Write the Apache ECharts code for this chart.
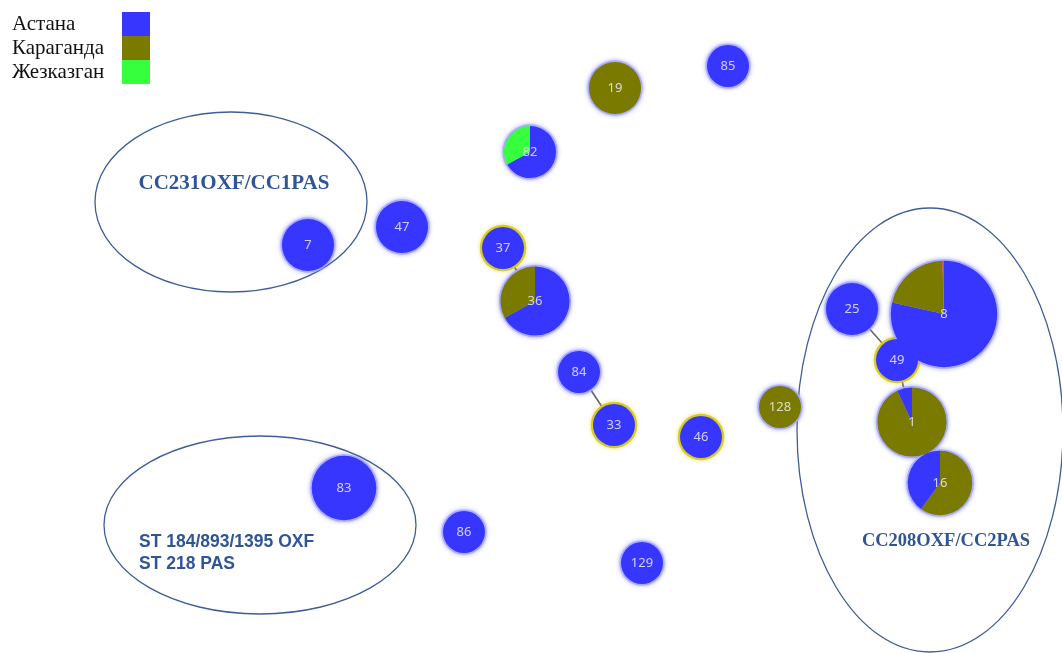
<!DOCTYPE html>
<html>
<head>
<meta charset="utf-8">
<script src="https://cdn.jsdelivr.net/npm/echarts@6/dist/echarts.min.js"></script>
<style>
  html, body { margin: 0; padding: 0; background: #ffffff; }
  #main { width: 1062px; height: 653px; }
</style>
</head>
<body>
<div id="main"></div>
<script>
// Regions of isolation and their pie colours
const regions = ['Астана', 'Караганда', 'Жезказган'];
const regionColors = ['#3636ff', '#7a7a00', '#36ff3e'];
const otherColor = '#ff4040';

// Sequence types (nodes) and their layout coordinates
const nodeIds = ['85', '19', '82', '7', '47', '37', '36', '84', '33', '46', '128', '25', '49', '8', '1', '16', '83', '86', '129'];
const nodeX   = [728, 615, 530, 308, 402, 503, 535, 579, 614, 701, 780, 852, 897, 944, 912, 940, 344, 464, 642];
const nodeY   = [66, 88, 152, 245, 227, 248, 301, 372, 425, 437, 407, 309, 360, 314, 422, 483, 488, 532, 563];

// Number of isolates per sequence type
const isolates = [1, 2, 2, 2, 2, 1, 5, 1, 1, 1, 1, 2, 1, 20, 5, 4, 4, 1, 1];

// Share of isolates (%) by region for every node
const shareAstana     = [100, 0, 67, 100, 100, 100, 67, 100, 100, 100, 0, 100, 100, 78.5, 7, 40, 100, 100, 100];
const shareKaraganda  = [0, 100, 0, 0, 0, 0, 33, 0, 0, 0, 100, 0, 0, 21, 93, 60, 0, 0, 0];
const shareZhezkazgan = [0, 0, 33, 0, 0, 0, 0, 0, 0, 0, 0, 0, 0, 0, 0, 0, 0, 0, 0];
const shareOther      = [0, 0, 0, 0, 0, 0, 0, 0, 0, 0, 0, 0, 0, 0.5, 0, 0, 0, 0, 0];

// Single-locus-variant links of the spanning tree
const links = [['37', '36'], ['84', '33'], ['25', '49'], ['49', '1']];

// Nodes marked as group founders (yellow ring)
const founders = ['37', '33', '46', '49'];

// Clonal complexes outlined by ellipses
const clusterNames = ['CC231OXF/CC1PAS', 'ST 184/893/1395 OXF\nST 218 PAS', 'CC208OXF/CC2PAS'];
const clusterCx = [231, 260, 930];
const clusterCy = [202, 525, 430];
const clusterRx = [136, 156, 133];
const clusterRy = [90, 89, 222];

const chart = echarts.init(document.getElementById('main'), null, { renderer: 'canvas' });

const radiusFor = n => 21 * Math.pow(n, 0.31);
const ringColor = '#d6cc22';
const haloColor = 'rgba(170,170,255,0.95)';

const clusterLabelStyle = [
  { x: 234, y: 184, align: 'center', va: 'middle', font: 'bold 21px "Liberation Serif"', lh: 22 },
  { x: 139, y: 531, align: 'left', va: 'top', font: 'bold 17.5px "Liberation Sans"', lh: 22 },
  { x: 946, y: 541, align: 'center', va: 'middle', font: 'bold 18.5px "Liberation Serif"', lh: 20 }
];

const baseSeries = [
  {
    type: 'custom',
    coordinateSystem: 'cartesian2d',
    z: 1,
    silent: true,
    animation: false,
    data: clusterNames.map((name, i) => [clusterCx[i], clusterCy[i], clusterRx[i], clusterRy[i], i]),
    renderItem: (params, api) => {
      const c = api.coord([api.value(0), api.value(1)]);
      const sz = api.size([api.value(2), api.value(3)]);
      const i = api.value(4);
      const st = clusterLabelStyle[i];
      const p = api.coord([st.x, st.y]);
      return {
        type: 'group',
        children: [
          {
            type: 'ellipse',
            shape: { cx: c[0], cy: c[1], rx: sz[0], ry: sz[1] },
            style: { fill: null, stroke: '#3d5e96', lineWidth: 1.3 }
          },
          {
            type: 'text',
            x: p[0],
            y: p[1],
            style: {
              text: clusterNames[i],
              font: st.font,
              fill: '#2f5597',
              align: st.align,
              verticalAlign: st.va,
              lineHeight: st.lh
            }
          }
        ]
      };
    }
  },
  {
    type: 'graph',
    coordinateSystem: 'cartesian2d',
    z: 2,
    silent: true,
    animation: false,
    data: nodeIds.map((id, i) => ({
      name: id,
      value: [nodeX[i], nodeY[i]],
      symbolSize: 2 * (radiusFor(isolates[i]) + (founders.includes(id) ? 2.2 : 1.6)),
      itemStyle: {
        color: founders.includes(id) ? ringColor : haloColor,
        shadowBlur: 4,
        shadowColor: founders.includes(id) ? 'rgba(214,204,34,0.6)' : 'rgba(120,120,255,0.7)'
      }
    })),
    links: links.map(l => ({ source: l[0], target: l[1] })),
    lineStyle: { color: '#666666', width: 1.6, opacity: 1, curveness: 0 },
    label: { show: false },
    emphasis: { disabled: true }
  },
  {
    type: 'scatter',
    z: 5,
    silent: true,
    animation: false,
    symbolSize: 2,
    itemStyle: { color: 'rgba(0,0,0,0)' },
    data: nodeIds.map((id, i) => ({ name: id, value: [nodeX[i], nodeY[i]] })),
    label: {
      show: true,
      position: 'inside',
      formatter: p => p.name,
      color: '#f4f4ff',
      fontFamily: 'Noto Sans',
      fontSize: 13
    },
    emphasis: { disabled: true }
  }
];

chart.setOption({
  animation: false,
  grid: { left: 0, right: 0, top: 0, bottom: 0 },
  xAxis: { type: 'value', min: 0, max: 1062, show: false },
  yAxis: { type: 'value', min: 0, max: 653, inverse: true, show: false },
  legend: {
    orient: 'vertical',
    left: 12,
    top: 12,
    padding: 0,
    align: 'right',
    itemWidth: 28,
    itemHeight: 24,
    itemGap: 0,
    icon: 'rect',
    selectedMode: false,
    data: regions,
    itemStyle: { borderWidth: 0, shadowBlur: 0 },
    formatter: name => '{t|' + name + '}',
    textStyle: {
      rich: {
        t: { width: 105, align: 'left', fontFamily: 'Liberation Serif', fontSize: 21, color: '#111111' }
      }
    }
  },
  series: baseSeries
});

// Pie charts placed at node positions through the cartesian scales
const pieSeries = nodeIds.map((id, i) => {
  const center = chart.convertToPixel({ xAxisIndex: 0, yAxisIndex: 0 }, [nodeX[i], nodeY[i]]);
  const slices = [
    { name: regions[0], value: shareAstana[i], itemStyle: { color: regionColors[0] } },
    { name: regions[1], value: shareKaraganda[i], itemStyle: { color: regionColors[1] } },
    { name: regions[2], value: shareZhezkazgan[i], itemStyle: { color: regionColors[2] } }
  ].filter(s => s.value > 0).sort((a, b) => b.value - a.value);
  if (shareOther[i] > 0) {
    slices.push({ name: 'other', value: shareOther[i], itemStyle: { color: otherColor } });
  }
  return {
    type: 'pie',
    z: 3,
    silent: true,
    animation: false,
    center: center,
    radius: radiusFor(isolates[i]),
    startAngle: 90,
    clockwise: true,
    label: { show: false },
    labelLine: { show: false },
    emphasis: { disabled: true },
    itemStyle: { borderWidth: 0 },
    data: slices
  };
});

chart.setOption({ series: baseSeries.concat(pieSeries) });
</script>
</body>
</html>
